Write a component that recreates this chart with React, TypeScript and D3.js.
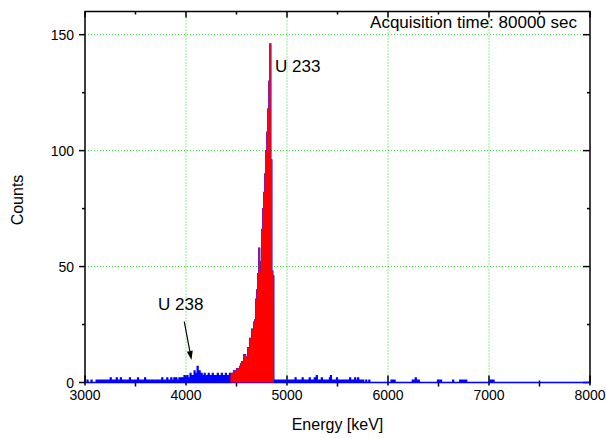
import React, { useMemo } from 'react'
import { scaleLinear, area, curveStepAfter, line } from 'd3'

// Spectrum bins, 10 keV wide, counts
const BIN_WIDTH = 10

// 3000 - 4430 keV (background, blue)
const lowStart = 3000
const lowCounts = [
  0, 0, 1, 0, 0, 0, 1, 0, 0, 0,
  0, 1, 0, 1, 1, 0, 1, 1, 0, 1,
  1, 0, 1, 1, 0, 2, 1, 1, 0, 1,
  1, 2, 1, 1, 1, 2, 1, 0, 1, 1,
  1, 1, 0, 1, 2, 1, 1, 1, 1, 0,
  1, 1, 2, 1, 1, 0, 1, 1, 1, 2,
  1, 0, 1, 1, 1, 1, 0, 1, 1, 1,
  1, 1, 0, 1, 1, 1, 2, 1, 1, 1,
  1, 2, 1, 1, 1, 2, 1, 1, 2, 1,
  2, 1, 1, 2, 1, 2, 2, 1, 3, 2,
  2, 3, 1, 2, 4, 2, 3, 2, 5, 3,
  4, 7, 3, 5, 2, 4, 3, 2, 4, 3,
  3, 2, 4, 3, 2, 3, 4, 2, 3, 2,
  3, 4, 2, 3, 2, 4, 3, 2, 3, 4,
  2, 3, 3, 4,
]

// 4440 - 4860 keV (U 233 region, red)
const roiStart = 4440
const roiCounts = [
  4, 4, 4, 5, 5, 5, 6, 6, 6, 7,
  8, 9, 9, 12, 12, 11, 11, 15, 15, 19,
  19, 23, 23, 26, 27, 36, 40, 47, 58, 48,
  52, 66, 75, 82, 90, 100, 108, 118, 130, 146,
  96, 48, 46,
]

// 4870 - 7090 keV (background, blue); zero beyond
const highStart = 4870
const highCounts = [
  1, 0, 1,
  1, 0, 1, 1, 0, 1, 0, 1, 1, 0,
  0, 1, 0, 1, 1, 0, 1, 1, 2, 1,
  1, 0, 1, 1, 0, 2, 1, 1, 0, 1,
  1, 1, 2, 1, 0, 1, 1, 2, 1, 3,
  1, 1, 0, 1, 2, 1, 1, 0, 1, 1,
  1, 1, 2, 3, 1, 1, 0, 1, 1, 2,
  1, 0, 1, 1, 1, 0, 1, 1, 0, 1,
  1, 1, 2, 1, 1, 0, 1, 2, 1, 1,
  2, 1, 1, 0, 1, 1, 0, 0, 1, 0,
  0, 1, 0, 0, 0, 0, 0, 0, 0, 0,
  0, 0, 0, 0, 0, 0, 0, 0, 0, 0,
  0, 0, 0, 1, 1, 0, 1, 0, 0, 0,
  0, 0, 0, 0, 0, 0, 0, 0, 0, 0,
  0, 0, 0, 0, 1, 0, 1, 2, 1, 0,
  1, 0, 0, 0, 0, 0, 0, 0, 0, 0,
  0, 0, 0, 0, 0, 0, 0, 0, 0, 1,
  1, 0, 1, 0, 0, 0, 0, 0, 0, 0,
  0, 0, 0, 0, 1, 0, 0, 0, 0, 0,
  0, 1, 0, 1, 1, 0, 1, 1, 0, 0,
  0, 0, 0, 0, 0, 0, 0, 0, 0, 0,
  0, 0, 0, 0, 0, 0, 0, 0, 0, 0,
  0, 1, 1, 0, 1, 0, 0, 0, 0, 0,
]

const xMajor = [3000, 4000, 5000, 6000, 7000, 8000]
const xMinor = [3500, 4500, 5500, 6500, 7500]
const yMajor = [0, 50, 100, 150]
const yMinor = [25, 75, 125]
const xGrid = [4000, 5000, 6000, 7000]
const yGrid = [50, 100, 150]

const xTitle = 'Energy [keV]'
const yTitle = 'Counts'
const note = 'Acquisition time: 80000 sec'

// Annotation anchors in data units
const u233Label = { e: 4881, c: 133.7, text: 'U 233' }
const u238Label = { e: 3723, c: 31.2, text: 'U 238' }
const u238Arrow = { from: [3983, 26.3], to: [4054, 9.7] }

const W = 606
const H = 438
const box = { left: 85, right: 590, top: 11.5, bottom: 382.5 }
const font = '"Liberation Sans", Arial, sans-serif'

// turn a run of bins into step points (with closing edge)
const toSteps = (start, counts) => {
  const pts = counts.map((c, i) => ({ e: start + i * BIN_WIDTH, c }))
  pts.push({ e: start + counts.length * BIN_WIDTH, c: counts[counts.length - 1] })
  return pts
}

const App = () => {
  const x = scaleLinear().domain([3000, 8000]).range([box.left, box.right])
  const y = scaleLinear().domain([0, 160]).range([box.bottom, box.top])

  const { bluePath, redPath, redTop } = useMemo(() => {
    const all = [...lowCounts, ...roiCounts, ...highCounts]
    const blue = toSteps(lowStart, all)
    blue.push({ e: 8000, c: 0 })
    const red = toSteps(roiStart, roiCounts)
    const ar = area()
      .curve(curveStepAfter)
      .x(d => x(d.e))
      .y0(y(0))
      .y1(d => y(d.c))
    const ln = line()
      .curve(curveStepAfter)
      .x(d => x(d.e))
      .y(d => y(d.c))
    return { bluePath: ar(blue), redPath: ar(red), redTop: ln(red) }
  }, [])

  // arrow head for the U 238 pointer
  const [ax1, ay1] = [x(u238Arrow.from[0]), y(u238Arrow.from[1])]
  const [ax2, ay2] = [x(u238Arrow.to[0]), y(u238Arrow.to[1])]
  const ang = Math.atan2(ay2 - ay1, ax2 - ax1)
  const hl = 9, hw = 3
  const bx = ax2 - hl * Math.cos(ang), by = ay2 - hl * Math.sin(ang)
  const head = [
    [ax2, ay2],
    [bx + hw * Math.sin(ang), by - hw * Math.cos(ang)],
    [bx - hw * Math.sin(ang), by + hw * Math.cos(ang)],
  ].map(p => p.join(',')).join(' ')

  return (
    <div style={{ position: 'fixed', left: 0, top: 0 }}>
      <svg width={W} height={H} style={{ display: 'block', background: 'white' }} fontFamily={font}>
        <defs>
          <clipPath id="plot">
            <rect x={box.left} y={box.top} width={box.right - box.left} height={box.bottom - box.top + 2} />
          </clipPath>
        </defs>

        {/* grid */}
        <g stroke="#22dd22" strokeWidth={1} strokeDasharray="1,2">
          {xGrid.map(t => <line key={'gx' + t} x1={x(t)} x2={x(t)} y1={box.top} y2={box.bottom} />)}
          {yGrid.map(t => <line key={'gy' + t} x1={box.left} x2={box.right} y1={y(t)} y2={y(t)} />)}
        </g>

        {/* frame + ticks */}
        <g stroke="black" strokeWidth={1.5}>
          <rect x={box.left} y={box.top} width={box.right - box.left} height={box.bottom - box.top} fill="none" />
          {xMajor.map(t => (
            <g key={'xm' + t}>
              <line x1={x(t)} x2={x(t)} y1={box.bottom - 7} y2={box.bottom + 3} />
              <line x1={x(t)} x2={x(t)} y1={box.top} y2={box.top + 6} />
            </g>
          ))}
          {xMinor.map(t => (
            <g key={'xn' + t}>
              <line x1={x(t)} x2={x(t)} y1={box.bottom - 2} y2={box.bottom + 4} />
              <line x1={x(t)} x2={x(t)} y1={box.top} y2={box.top + 3} />
            </g>
          ))}
          {yMajor.map(t => (
            <g key={'ym' + t}>
              <line x1={box.left - 6} x2={box.left} y1={y(t)} y2={y(t)} />
              <line x1={box.right - 7} x2={box.right} y1={y(t)} y2={y(t)} />
            </g>
          ))}
          {yMinor.map(t => (
            <g key={'yn' + t}>
              <line x1={box.left - 3} x2={box.left} y1={y(t)} y2={y(t)} />
              <line x1={box.right - 3} x2={box.right} y1={y(t)} y2={y(t)} />
            </g>
          ))}
        </g>

        {/* spectrum */}
        <g clipPath="url(#plot)">
          <path d={bluePath} fill="#0000ff" stroke="#0000ff" strokeWidth={1.2} />
          <path d={redPath} fill="#ff0000" />
          <path d={redTop} fill="none" stroke="#c8205e" strokeWidth={0.6} />
        </g>

        {/* tick labels */}
        <g fontSize={14} fill="black">
          {xMajor.map(t => (
            <text key={'xl' + t} x={x(t)} y={400} textAnchor="middle">{t}</text>
          ))}
          {yMajor.map(t => (
            <text key={'yl' + t} x={box.left - 11} y={y(t) + 5} textAnchor="end">{t}</text>
          ))}
        </g>

        {/* titles */}
        <text x={(box.left + box.right) / 2} y={430} textAnchor="middle" fontSize={16}>{xTitle}</text>
        <text transform={`translate(23, ${(box.top + box.bottom) / 2 + 3}) rotate(-90)`} textAnchor="middle" fontSize={16}>{yTitle}</text>

        {/* annotations */}
        <text x={577} y={28} textAnchor="end" fontSize={17}>{note}</text>
        <text x={x(u233Label.e)} y={y(u233Label.c)} fontSize={17}>{u233Label.text}</text>
        <text x={x(u238Label.e)} y={y(u238Label.c)} fontSize={17}>{u238Label.text}</text>
        <line x1={ax1} y1={ay1} x2={bx} y2={by} stroke="black" strokeWidth={1.2} />
        <polygon points={head} fill="black" />
      </svg>
    </div>
  )
}

export default App
